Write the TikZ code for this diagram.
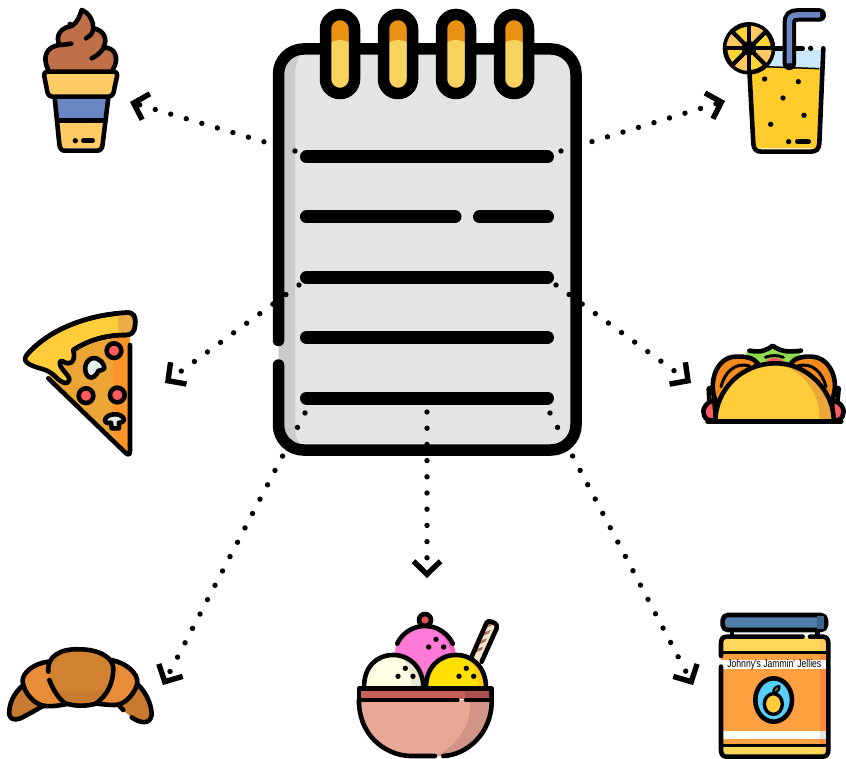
\documentclass[tikz,border=0pt]{standalone}
\usepackage{fontspec}
\usepackage{graphicx}
\usetikzlibrary{arrows.meta}
\newfontfamily\jarfont{Liberation Sans}
\definecolor{paper}{HTML}{E4E4E4}
\definecolor{papershade}{HTML}{CBCBCB}
\definecolor{ringor}{HTML}{E89112}
\definecolor{ringye}{HTML}{F8D45F}
\definecolor{choc}{HTML}{C07048}
\definecolor{cone}{HTML}{FFCB63}
\definecolor{cupblue}{HTML}{6A87C4}
\definecolor{juice}{HTML}{FFCC2B}
\definecolor{icewater}{HTML}{C9E9FB}
\definecolor{lemonA}{HTML}{FFC861}
\definecolor{lemonB}{HTML}{FFD333}
\definecolor{pizzab}{HTML}{EBA535}
\definecolor{pizzas}{HTML}{FF9529}
\definecolor{crust}{HTML}{FFCD3A}
\definecolor{pep}{HTML}{FF5A5F}
\definecolor{mush}{HTML}{E3EFE9}
\definecolor{tacoor}{HTML}{F58B1F}
\definecolor{tacogr}{HTML}{8FDC4E}
\definecolor{tacosh}{HTML}{EBA83A}
\definecolor{croA}{HTML}{D08230}
\definecolor{croB}{HTML}{E88C38}
\definecolor{croC}{HTML}{C87A30}
\definecolor{bowlA}{HTML}{E8A898}
\definecolor{bowlB}{HTML}{D09585}
\definecolor{rimA}{HTML}{C85E5A}
\definecolor{rimB}{HTML}{AD5050}
\definecolor{scPink}{HTML}{FF7AD6}
\definecolor{scPinkS}{HTML}{F962C4}
\definecolor{scWhite}{HTML}{FFFEE5}
\definecolor{scWhiteS}{HTML}{E8E8D2}
\definecolor{scYel}{HTML}{FFE000}
\definecolor{scYelS}{HTML}{FFCC10}
\definecolor{wafer}{HTML}{F3E6CF}
\definecolor{waferS}{HTML}{A9745A}
\definecolor{lid}{HTML}{4F7EA8}
\definecolor{lidS}{HTML}{3F668D}
\definecolor{jarY}{HTML}{FFD75A}
\definecolor{jarO}{HTML}{FFA040}
\definecolor{jarS}{HTML}{FF8A3C}
\definecolor{oval}{HTML}{55D0FF}
\tikzset{
  ol/.style={draw=black,line width=4.6pt,line cap=round,line join=round},
  thin ol/.style={draw=black,line width=3.4pt,line cap=round,line join=round},
  noteline/.style={draw=black,line width=13pt,line cap=round},
  conn/.style={draw=black,line width=5.4pt,line cap=round,dash pattern=on 0pt off 16.2pt,
    -{Straight Barb[sharp,length=13pt,width=27pt,line width=5.4pt]}},
  zoomed/.style={shift={(#1)},scale=0.33333}
}
\begin{document}
\begin{tikzpicture}[x=1pt,y=-1pt]
\useasboundingbox (0,0) rectangle (846,759);
% ---- notebook
\begin{scope}
\clip[rounded corners=25pt] (278.5,49) rectangle (576,450);
\fill[paper] (278,49) rectangle (576,450);
\fill[papershade] (278,49) -- (303,49) .. controls (298,58) and (295,65) .. (295,75) -- (295,430) .. controls (295,437) and (299,443) .. (304,450) -- (278,450) -- cycle;
\end{scope}
\draw[draw=black,line width=11.5pt,line cap=round,rounded corners=25pt]
  (278.5,340.5) -- (278.5,49) -- (576,49) -- (576,450) -- (278.5,450) -- (278.5,365);
\foreach \rx in {340,398,456,514}{
  \fill[ringor] (\rx-10,20) rectangle (\rx+10,50);
  \fill[ringye] (\rx-10,43) .. controls (\rx-4,39) and (\rx+4,39) .. (\rx+10,43) -- (\rx+10,90) -- (\rx-10,90) -- cycle;
  \draw[draw=black,line width=11.5pt,rounded corners=14.4pt] (\rx-14.5,14.5) rectangle (\rx+14.5,93.5);
}
\draw[noteline] (306.5,157) -- (547.5,157);
\draw[noteline] (306.5,217) -- (455,217);
\draw[noteline] (479.5,217) -- (547.5,217);
\draw[noteline] (306.5,277.5) -- (547.5,277.5);
\draw[noteline] (306.5,337.5) -- (547.5,337.5);
\draw[noteline] (306.5,398) -- (547.5,398);
% ---- connectors
\coordinate (tlS) at (295,151);  \coordinate (tlE) at (130,102);
\coordinate (trS) at (561,151);  \coordinate (trE) at (725,101);
\coordinate (mlS) at (299,285);  \coordinate (mlE) at (165,383);
\coordinate (mrS) at (556,285);  \coordinate (mrE) at (691,383);
\coordinate (blS) at (305,413);  \coordinate (blE) at (163,685);
\coordinate (bmS) at (427,412);  \coordinate (bmE) at (427,578);
\coordinate (brS) at (550,413);  \coordinate (brE) at (693,685);
\draw[conn] (tlS) -- (tlE);
\draw[conn] (trS) -- (trE);
\draw[conn] (mlS) -- (mlE);
\draw[conn] (mrS) -- (mrE);
\draw[conn] (blS) -- (blE);
\draw[conn] (bmS) -- (bmE);
\draw[conn] (brS) -- (brE);
% ---- ice cream
\begin{scope}[zoomed={0,0}]
\fill[choc] (145,215) -- (145,205) -- (338,205) -- (338,215) -- cycle;
\draw[ol,fill=choc] (145,210) .. controls (125,170) and (140,140) .. (178,135) .. controls (165,105) and (185,88) .. (197,83) -- (215,78) .. controls (235,65) and (240,45) .. (245,30) .. controls (270,40) and (280,65) .. (280,85) .. controls (310,90) and (325,115) .. (310,143) .. controls (345,140) and (360,175) .. (338,210);
\draw[ol] (183,135) -- (214,131);
\draw[ol] (258,115) .. controls (268,110) and (275,105) .. (280,88);
\draw[ol] (275,175) .. controls (290,168) and (302,158) .. (310,145);
\fill (210,73) circle [radius=8];
\fill[cupblue] (165,290) rectangle (322,358);
\fill[cone] (172,358) rectangle (315,445);
\draw[ol] (164,292) -- (178,432) .. controls (180,447) and (185,452) .. (195,452) -- (290,452) .. controls (302,452) and (306,447) .. (308,432) -- (325,292);
\draw[ol] (172,362) -- (316,362);
\draw[ol,fill=cone,rounded corners=4pt] (130,215) -- (354,215) -- (338,290) -- (145,290) -- cycle;
\fill (226,422) circle [radius=8];
\draw[ol] (250,422) -- (278,422);
\end{scope}
% ---- drink
\begin{scope}[zoomed={690,0}]
\fill[icewater] (240,150) -- (392,150) -- (390,205) -- (230,200) -- cycle;
\fill[juice] (180,200) -- (390,205) -- (385,445) -- (195,445) -- cycle;
\draw[line width=1.5pt] (222,200) -- (388,206);
\draw[ol] (400,145) -- (388,430) .. controls (387,448) and (378,455) .. (362,455) -- (215,455) .. controls (198,455) and (191,448) .. (190,430) -- (178,210);
\draw[ol] (250,145) -- (338,145);
\fill (362,145) circle [radius=8];
\draw[line width=13.5pt,line cap=round,black] (298,190) -- (298,70) .. controls (298,52) and (305,45) .. (322,45) -- (388,45);
\draw[line width=5.5pt,cupblue] (298,190) -- (298,70) .. controls (298,52) and (305,45) .. (322,45) -- (390,45);
\draw[ol,fill=lemonB] (177,145) circle [radius=72];
\foreach \a in {0,90,180,270}{
  \fill[lemonA] (177,145) -- ++(\a:68) arc [start angle=\a,end angle=\a+45,radius=68] -- cycle;
}
\foreach \a in {0,45,90,135}{
  \draw[line width=4.2pt,black] (177,145) ++(\a:70) -- ++(\a+180:140);
}
\fill (177,145) circle [radius=22];
\foreach \p in {(224,237),(325,245),(279,294),(342,346),(242,373),(296,425)}{\fill \p circle [radius=8];}
\draw[ol] (322,425) -- (356,425);
\end{scope}
% ---- pizza
\begin{scope}[zoomed={10,300}]
\fill[pizzab] (115,230) -- (190,150) .. controls (240,115) and (300,105) .. (360,105) -- (360,460) -- (345,460) -- cycle;
\fill[pizzas] (310,110) -- (360,105) -- (360,462) -- (310,415) -- cycle;
\draw[ol] (115,235) -- (345,457) .. controls (355,467) and (360,465) .. (360,452) -- (360,135);
\draw[ol,fill=crust] (50,165) .. controls (110,95) and (220,45) .. (350,38) .. controls (372,37) and (378,50) .. (375,75) .. controls (373,98) and (365,105) .. (345,105) .. controls (290,105) and (235,120) .. (190,150) .. controls (195,170) and (192,190) .. (175,190) .. controls (162,190) and (158,178) .. (150,185) .. controls (145,205) and (180,225) .. (178,240) .. controls (172,255) and (160,250) .. (145,238) .. controls (130,222) and (115,212) .. (100,208) .. controls (75,200) and (30,190) .. (50,165) -- cycle;
\fill[pizzab!92!white] (325,42) -- (350,41) .. controls (370,40) and (375,50) .. (372,75) .. controls (370,96) and (362,102) .. (345,102) -- (325,103) -- cycle;
\draw[ol] (50,165) .. controls (110,95) and (220,45) .. (350,38) .. controls (372,37) and (378,50) .. (375,75) .. controls (373,98) and (365,105) .. (345,105) .. controls (290,105) and (235,120) .. (190,150);
\foreach \p in {(312,152),(228,287),(322,285)}{\draw[ol,fill=pep] \p circle [radius=22];}
\draw[ol,fill=mush] (245,175) .. controls (270,170) and (285,195) .. (283,205) .. controls (275,212) and (270,212) .. (265,212) .. controls (262,225) and (245,240) .. (235,230) .. controls (220,215) and (222,185) .. (245,175) -- cycle;
\draw[ol,fill=mush] (285,360) .. controls (288,340) and (335,335) .. (342,358) .. controls (342,368) and (328,368) .. (327,368) -- (327,385) -- (305,385) -- (303,368) .. controls (295,372) and (285,368) .. (285,360) -- cycle;
\end{scope}
% ---- taco
\begin{scope}[zoomed={666,330}]
\fill[tacogr] (238,68) -- (275,62) -- (320,48) -- (360,62) -- (405,66) -- (390,100) -- (262,100) -- cycle;
\draw[ol] (250,62) .. controls (285,68) and (300,62) .. (320,47) .. controls (340,62) and (360,68) .. (405,62);
\fill[pep] (298,95) .. controls (310,80) and (340,80) .. (355,95) -- cycle;
\draw[line width=3pt,line cap=round] (298,82) .. controls (315,75) and (335,75) .. (352,82);
\draw[ol,fill=tacogr] (128,175) -- (150,170) -- (155,240) -- (130,210) -- cycle;
\draw[ol,fill=tacogr] (518,175) -- (495,170) -- (490,240) -- (515,210) -- cycle;
\draw[ol,fill=pep] (145,212) .. controls (120,215) and (105,240) .. (115,258) .. controls (120,270) and (130,272) .. (150,272) -- cycle;
\draw[ol,fill=pep] (500,212) .. controls (525,215) and (540,240) .. (530,258) .. controls (525,270) and (515,272) .. (495,272) -- cycle;
\draw[ol,fill=tacoor] (150,215) .. controls (125,160) and (150,80) .. (210,80) .. controls (240,78) and (265,85) .. (275,100) -- (200,200) -- cycle;
\draw[ol,fill=tacoor] (495,215) .. controls (525,160) and (495,80) .. (435,80) .. controls (410,78) and (385,85) .. (375,100) -- (445,200) -- cycle;
\draw[line width=3pt,line cap=round] (165,170) .. controls (175,130) and (205,95) .. (250,108);
\draw[line width=3pt,line cap=round] (480,170) .. controls (470,130) and (440,95) .. (395,108);
\fill[crust] (148,272) .. controls (150,180) and (225,100) .. (330,100) .. controls (430,100) and (505,190) .. (503,272) -- cycle;
\fill[tacosh] (348,103) .. controls (420,130) and (465,200) .. (460,272) -- (503,272) .. controls (505,190) and (430,105) .. (348,103) -- cycle;
\draw[ol] (148,272) .. controls (150,180) and (225,100) .. (330,100) .. controls (430,100) and (505,190) .. (503,272);
\draw[draw=black,line width=5pt,line cap=round] (125,274) -- (525,274);
\end{scope}
% ---- croissant
\begin{scope}[zoomed={0,630}]
\draw[ol,fill=croC] (70,165) .. controls (40,190) and (25,225) .. (28,255) .. controls (35,275) and (55,270) .. (75,258) .. controls (95,248) and (115,235) .. (135,225) -- cycle;
\fill[croC] (415,165) .. controls (440,190) and (455,225) .. (455,255) .. controls (450,285) and (420,280) .. (395,262) -- (350,225) -- cycle;
\draw[ol] (415,165) .. controls (440,190) and (455,225) .. (455,255) .. controls (450,285) and (420,280) .. (395,262);
\draw[ol] (370,240) -- (358,228);
\draw[ol,fill=croB] (145,95) .. controls (100,100) and (65,130) .. (68,155) .. controls (72,190) and (105,225) .. (135,228) .. controls (165,230) and (185,225) .. (200,222) -- cycle;
\draw[ol,fill=croB] (335,90) .. controls (380,100) and (415,130) .. (412,160) .. controls (405,190) and (375,225) .. (345,225) .. controls (320,225) and (300,222) .. (285,220) -- cycle;
\fill[croA] (148,120) .. controls (140,80) and (180,55) .. (240,58) .. controls (300,58) and (340,85) .. (340,115) .. controls (340,160) and (320,200) .. (285,222) .. controls (250,230) and (225,228) .. (195,220) .. controls (170,200) and (150,170) .. (148,120) -- cycle;
\fill[croC] (172,183) -- (330,183) .. controls (320,200) and (305,212) .. (285,222) .. controls (250,230) and (225,228) .. (195,220) -- cycle;
\draw[ol] (145,125) .. controls (140,80) and (180,55) .. (240,58) .. controls (300,58) and (340,85) .. (340,115) .. controls (340,160) and (320,200) .. (285,222) .. controls (250,230) and (225,228) .. (195,220) .. controls (175,205) and (160,180) .. (148,150);
\end{scope}
% ---- sundae
\begin{scope}[zoomed={340,600}]
\fill[wafer] (395,175) -- (442,70) -- (470,82) -- (425,190) -- cycle;
\foreach \t in {0,1,2,3}{\fill[waferS] (402+\t*11,160-\t*25) -- (425+\t*11,150-\t*25) -- (430+\t*11,140-\t*25) -- (407+\t*11,148-\t*25) -- cycle;}
\draw[ol] (395,170) -- (438,72) .. controls (442,62) and (450,62) .. (458,66) .. controls (470,72) and (474,78) .. (470,85) -- (425,185);
\draw[ol,fill=pep!90!black] (255,60) circle [radius=18];
\fill[scPink] (255,170) circle [radius=92];
\fill[scPinkS] (272,82) .. controls (300,95) and (330,125) .. (336,165) -- (347,160) .. controls (340,115) and (305,85) .. (272,78) -- cycle;
\draw[ol] (255,170) ++(205:92) arc [start angle=205,end angle=335,radius=92];
\fill (288,118) circle [radius=8];\fill (266,141) circle [radius=8];\fill (311,141) circle [radius=8];
\fill[scWhite] (72,262) .. controls (72,200) and (110,165) .. (160,165) .. controls (210,165) and (250,205) .. (250,262) -- cycle;
\fill[scWhiteS] (172,167) .. controls (205,185) and (215,225) .. (212,262) -- (250,262) .. controls (250,205) and (210,167) .. (172,167) -- cycle;
\draw[ol] (72,262) .. controls (72,200) and (110,165) .. (160,165) .. controls (210,165) and (250,205) .. (250,262);
\fill[scYel] (258,262) .. controls (258,200) and (300,165) .. (348,165) .. controls (400,165) and (438,205) .. (438,262) -- cycle;
\fill[scYelS] (368,167) .. controls (400,185) and (415,225) .. (412,262) -- (438,262) .. controls (438,205) and (400,167) .. (368,167) -- cycle;
\draw[ol] (258,262) .. controls (258,200) and (300,165) .. (348,165) .. controls (400,165) and (438,205) .. (438,262);
\fill (196,205) circle [radius=8];\fill (174,229) circle [radius=8];\fill (219,229) circle [radius=8];
\fill (379,205) circle [radius=8];\fill (357,229) circle [radius=8];\fill (401,229) circle [radius=8];
\fill[bowlA] (60,300) -- (450,300) .. controls (450,400) and (380,465) .. (300,468) -- (210,468) .. controls (130,465) and (60,400) .. (60,300) -- cycle;
\fill[bowlB] (390,300) -- (450,300) .. controls (450,400) and (380,465) .. (300,468) -- (285,468) .. controls (350,440) and (395,380) .. (390,300) -- cycle;
\fill[rimA] (60,268) rectangle (450,298);
\fill[rimB] (375,268) rectangle (450,298);
\draw[ol] (57,300) .. controls (55,400) and (130,465) .. (210,468) -- (285,468);
\draw[ol] (310,468) .. controls (380,465) and (457,400) .. (455,300);
\draw[ol] (57,300) -- (57,266) -- (455,266) -- (455,300);
\draw[ol] (57,300) -- (352,300);
\draw[ol] (378,300) -- (455,300);
\end{scope}
% ---- jar
\begin{scope}[zoomed={666,600}]
\fill[white] (195,90) rectangle (455,112);
\draw[ol] (198,92) -- (198,110);
\draw[ol] (455,92) -- (455,110);
\draw[ol,fill=lid,rounded corners=5pt] (170,45) rectangle (480,90);
\fill[lidS] (452,49) rectangle (475,86);
\begin{scope}
\clip[rounded corners=7pt] (165,112) rectangle (487,468);
\fill[jarY] (165,112) rectangle (487,155);
\fill[cone] (462,112) rectangle (487,155);
\fill[jarO] (165,155) rectangle (487,435);
\fill[jarS] (462,155) rectangle (487,435);
\fill[white] (165,180) rectangle (480,208);
\fill[white] (165,392) rectangle (487,418);
\fill[paper] (462,392) rectangle (487,418);
\fill[jarY] (165,435) rectangle (487,468);
\fill[cone] (462,435) rectangle (487,468);
\end{scope}
\draw[ol] (165,168) -- (165,130) .. controls (165,118) and (170,110) .. (182,110) -- (410,110);
\draw[ol] (432,110) -- (470,110) .. controls (482,110) and (487,118) .. (487,130) -- (487,450) .. controls (487,462) and (482,470) .. (470,470) -- (182,470) .. controls (170,470) and (165,462) .. (165,450) -- (165,200);
\draw[draw=black,line width=3pt] (165,158) -- (487,158);
\draw[draw=black,line width=3pt] (165,436) -- (487,436);
\draw[ol,fill=oval] (323,300) ellipse [x radius=55,y radius=65];
\draw[thin ol,fill=crust] (322,312) ellipse [x radius=27,y radius=31];
\draw[line width=2pt,fill=tacogr!55!black] (322,278) .. controls (320,265) and (330,258) .. (340,258) .. controls (342,270) and (335,278) .. (322,278) -- cycle;
\node[inner sep=0pt,font=\jarfont\fontsize{11}{12}\selectfont] (jarlabel) at (325,194) {\scalebox{0.78}[1]{Johnny's Jammin' Jellies}};
\end{scope}
\end{tikzpicture}
\end{document}
